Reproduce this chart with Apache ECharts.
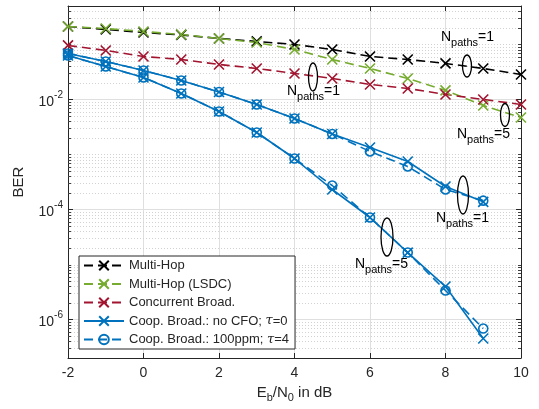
<!DOCTYPE html>
<html>
<head>
<meta charset="utf-8">
<script src="https://cdn.jsdelivr.net/npm/echarts@6/dist/echarts.min.js"></script>
<style>
  html, body { margin: 0; padding: 0; background: #fff; }
  #chart { width: 539px; height: 409px; }
</style>
</head>
<body>
<div id="chart"></div>
<script>
// Eb/N0 in dB
const ebn0 = [-2, -1, 0, 1, 2, 3, 4, 5, 6, 7, 8, 9, 10];
const ebn0Coop = [-2, -1, 0, 1, 2, 3, 4, 5, 6, 7, 8, 9];

const multiHop = [0.212, 0.1875, 0.165, 0.149, 0.1285, 0.1135, 0.1, 0.081, 0.0605, 0.0533, 0.0452, 0.0366, 0.0285];
const multiHopLsdc = [0.212, 0.195, 0.172, 0.152, 0.128, 0.1086, 0.081, 0.0533, 0.0366, 0.0241, 0.0146, 0.00778, 0.00471];
const concurrent = [0.096, 0.0778, 0.0605, 0.0533, 0.0433, 0.0366, 0.0297, 0.0241, 0.01875, 0.01585, 0.01233, 0.01, 0.0081];

// cooperative broadcast, N_paths = 1
const coopNoCfo1 = [0.0686, 0.0491, 0.0337, 0.0221, 0.01368, 0.0081, 0.00452, 0.00236, 0.00134, 7.46e-4, 2.62e-4, 1.38e-4];
const coopPpm1 = [0.0686, 0.0491, 0.0337, 0.0221, 0.01368, 0.0081, 0.00452, 0.00236, 0.001135, 6.05e-4, 2.31e-4, 1.45e-4];
// cooperative broadcast, N_paths = 5
const coopNoCfo5 = [0.063, 0.0398, 0.0251, 0.01285, 0.00605, 0.00251, 8.45e-4, 2.31e-4, 7.16e-5, 1.65e-5, 3.98e-6, 4.52e-7];
const coopPpm5 = [0.063, 0.0398, 0.0251, 0.01285, 0.00605, 0.00251, 8.45e-4, 2.73e-4, 7.16e-5, 1.65e-5, 3.37e-6, 6.86e-7];

const names = ['Multi-Hop', 'Multi-Hop (LSDC)', 'Concurrent Broad.', 'Coop. Broad.: no CFO; \u03c4=0', 'Coop. Broad.: 100ppm; \u03c4=4'];

const FONT = '"Liberation Sans", Arial, sans-serif';
const X_SYMBOL = 'path://M0,0L10,10M0,10L10,0';
const BLACK = '#000000', GREEN = '#77AC30', RED = '#A2142F', BLUE = '#0072BD';
const Y_MIN = 2e-7, Y_MAX = 0.5;

function pairs(xs, ys) {
  return xs.map((x, i) => [x, ys[i]]);
}

// dotted minor grid + minor ticks: m x 10^k, leaving out the labelled decades
const minorGrid = [];
for (let k = -7; k <= -1; k++) {
  for (let m = 1; m <= 9; m++) {
    const v = m * Math.pow(10, k);
    if (v <= Y_MIN * 1.001 || v >= Y_MAX * 0.999) continue;
    if (m === 1 && (k === -2 || k === -4 || k === -6)) continue;
    minorGrid.push([-2, v]);
  }
}

function mkSeries(name, xs, ys, color, dashed, symbol) {
  return {
    name: name,
    type: 'line',
    data: pairs(xs, ys),
    symbol: symbol,
    symbolSize: symbol === 'circle' ? 9 : 10,
    showAllSymbol: true,
    color: color,
    lineStyle: { color: color, width: 1.6, type: dashed ? [9, 5] : 'solid' },
    itemStyle: {
      color: symbol === 'circle' ? 'rgba(0,0,0,0)' : color,
      borderColor: color,
      borderWidth: 1.6
    },
    emphasis: { disabled: true },
    z: 3
  };
}

const series = [
  {
    type: 'custom',
    silent: true,
    z: 1,
    data: minorGrid,
    encode: { x: 0, y: 1 },
    renderItem: function (params, api) {
      const v = api.value(1);
      const p1 = api.coord([-2, v]);
      const p2 = api.coord([10, v]);
      const y = Math.round(p1[1]) + 0.5;
      return {
        type: 'group',
        children: [{
          type: 'line',
          shape: { x1: p1[0], y1: y, x2: p2[0], y2: y },
          style: { stroke: '#d2d2d2', lineWidth: 1, lineDash: [1, 2] }
        }, {
          type: 'line',
          shape: { x1: p1[0], y1: y, x2: p1[0] + 3, y2: y },
          style: { stroke: '#404040', lineWidth: 1 }
        }, {
          type: 'line',
          shape: { x1: p2[0] - 3, y1: y, x2: p2[0], y2: y },
          style: { stroke: '#404040', lineWidth: 1 }
        }]
      };
    }
  },
  mkSeries(names[0], ebn0, multiHop, BLACK, true, X_SYMBOL),
  mkSeries(names[1], ebn0, multiHopLsdc, GREEN, true, X_SYMBOL),
  mkSeries(names[2], ebn0, concurrent, RED, true, X_SYMBOL),
  mkSeries(names[3], ebn0Coop, coopNoCfo1, BLUE, false, X_SYMBOL),
  mkSeries(names[4], ebn0Coop, coopPpm1, BLUE, true, 'circle'),
  mkSeries(names[3], ebn0Coop, coopNoCfo5, BLUE, false, X_SYMBOL),
  mkSeries(names[4], ebn0Coop, coopPpm5, BLUE, true, 'circle')
];

const subRich = {
  n: { fontSize: 14, fontFamily: FONT, color: '#262626', verticalAlign: 'top', lineHeight: 16 },
  s: { fontSize: 11, fontFamily: FONT, color: '#262626', verticalAlign: 'top', padding: [7, 0, 0, 0], lineHeight: 12 }
};

function npaths(x, y, n) {
  return {
    type: 'text', x: x, y: y, z: 20,
    style: { text: '{n|N}{s|paths}{n|=' + n + '}', rich: subRich }
  };
}
function ring(cx, cy, rx, ry) {
  return {
    type: 'ellipse', z: 20,
    shape: { cx: cx, cy: cy, rx: rx, ry: ry },
    style: { fill: 'none', stroke: '#000', lineWidth: 1.3 }
  };
}

const chart = echarts.init(document.getElementById('chart'), null, { renderer: 'canvas' });

chart.setOption({
  animation: false,
  backgroundColor: '#ffffff',
  textStyle: { fontFamily: FONT },
  grid: { left: 68, right: 18, top: 6, bottom: 51, show: false },
  legend: {
    left: 79, top: 256,
    orient: 'vertical',
    itemWidth: 40, itemHeight: 12, itemGap: 5.5,
    padding: [3, 6, 3, 4],
    backgroundColor: '#ffffff',
    borderColor: '#262626', borderWidth: 1,
    textStyle: {
      fontSize: 13, color: '#262626', fontFamily: FONT,
      rich: { i: { fontSize: 13, color: '#262626', fontFamily: '"DejaVu Serif", serif', fontStyle: 'italic' } }
    },
    formatter: function (name) {
      return name.replace('\u03c4', '{i|\u03c4}');
    },
    data: names,
    selectedMode: false
  },
  xAxis: [{
    type: 'value', min: -2, max: 10, interval: 2,
    axisLine: { show: true, onZero: false, lineStyle: { color: '#262626' } },
    axisTick: { inside: true, length: 5, lineStyle: { color: '#262626' } },
    axisLabel: { fontSize: 14, color: '#262626', margin: 8, fontFamily: FONT },
    splitLine: { show: true, lineStyle: { color: '#dfdfdf', width: 1 } },
    name: '{n|E}{s|b}{n|/N}{s|0}{n| in dB}',
    nameLocation: 'middle', nameGap: 24,
    nameTextStyle: {
      rich: {
        n: { fontSize: 15, fontFamily: FONT, color: '#262626', verticalAlign: 'top', lineHeight: 17 },
        s: { fontSize: 11, fontFamily: FONT, color: '#262626', verticalAlign: 'top', padding: [8, 0, 0, 0], lineHeight: 12 }
      }
    }
  }, {
    type: 'value', min: -2, max: 10, interval: 2, position: 'top',
    axisLine: { show: true, onZero: false, lineStyle: { color: '#262626' } },
    axisTick: { inside: true, length: 5, lineStyle: { color: '#262626' } },
    axisLabel: { show: false }, splitLine: { show: false }
  }],
  yAxis: [{
    // base 100 puts the ticks on every second decade: 1e-6, 1e-4, 1e-2
    type: 'log', logBase: 100, min: Y_MIN, max: Y_MAX,
    axisLine: { show: true, onZero: false, lineStyle: { color: '#262626' } },
    axisTick: { inside: true, length: 5, lineStyle: { color: '#262626' } },
    axisLabel: {
      margin: 5,
      showMinLabel: false, showMaxLabel: false,
      formatter: function (v) {
        const e = Math.log10(v);
        if (Math.abs(e - Math.round(e)) > 1e-6) return '';
        return '{b|10}{e|' + Math.round(e) + '}';
      },
      rich: {
        b: { fontSize: 14, fontFamily: FONT, color: '#262626', verticalAlign: 'top', padding: [5, 0, 0, 0] },
        e: { fontSize: 10, fontFamily: FONT, color: '#262626', verticalAlign: 'top' }
      }
    },
    splitLine: { show: true, lineStyle: { color: '#dfdfdf', width: 1 } },
    name: 'BER', nameLocation: 'middle', nameGap: 42, nameRotate: 90,
    nameTextStyle: { fontSize: 15, color: '#262626', fontFamily: FONT }
  }, {
    type: 'log', logBase: 100, min: Y_MIN, max: Y_MAX, position: 'right',
    axisLine: { show: true, onZero: false, lineStyle: { color: '#262626' } },
    axisTick: { inside: true, length: 5, lineStyle: { color: '#262626' } },
    axisLabel: { show: false }, splitLine: { show: false }
  }],
  series: series,
  graphic: [
    ring(467, 66, 4.5, 11), npaths(441, 30, 1),
    ring(313, 77, 4.5, 14), npaths(287, 84, 1),
    ring(505, 115, 4.5, 11.5), npaths(457, 127, 5),
    ring(463, 195, 5.5, 19), npaths(436, 211, 1),
    ring(387, 237, 6, 19), npaths(355, 257, 5)
  ]
});
</script>
</body>
</html>
